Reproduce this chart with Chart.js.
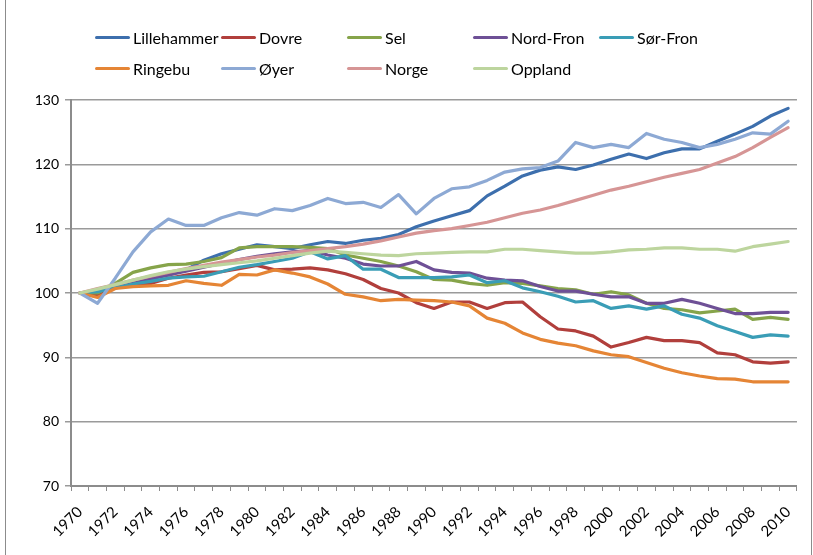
<!DOCTYPE html>
<html>
<head>
<meta charset="utf-8">
<script src="https://cdn.jsdelivr.net/npm/chart.js@4/dist/chart.umd.min.js"></script>
<style>
    html, body { margin: 0; padding: 0; background: #fff; }
    #wrap { position: relative; width: 813px; height: 555px; overflow: hidden; }
    #frame { position: absolute; left: 5px; top: -2px; width: 807px; height: 560px; border: 1px solid #8c8c8c; box-sizing: border-box; }
    #chart { position: absolute; left: 0; top: 0; }
    #legend { position: absolute; left: 95px; top: 26px; display: grid; grid-template-columns: repeat(5, 126px); row-gap: 9px; font-family: Lato, sans-serif; font-size: 16px; color: #000; }
    .lg-item { display: flex; align-items: center; height: 22px; white-space: nowrap; }
    .lg-line { display: inline-block; width: 35px; height: 3px; margin-right: 3px; border-radius: 2px; }
</style>
</head>
<body>
<div id="wrap">
    <div id="frame"></div>
    <canvas id="chart" width="813" height="555"></canvas>
    <div id="legend"></div>
</div>
<script>
    // ─── Data ───────────────────────────────────────────────────

    const years = ['1970', '1971', '1972', '1973', '1974', '1975', '1976', '1977', '1978', '1979',
        '1980', '1981', '1982', '1983', '1984', '1985', '1986', '1987', '1988', '1989',
        '1990', '1991', '1992', '1993', '1994', '1995', '1996', '1997', '1998', '1999',
        '2000', '2001', '2002', '2003', '2004', '2005', '2006', '2007', '2008', '2009', '2010'];

    const lillehammer = [100, 100.3, 100.9, 101.7, 102.2, 102.8, 103.6, 105.1, 106.1, 106.8, 107.5,
        107.2, 106.9, 107.5, 108.0, 107.7, 108.2, 108.5, 109.1, 110.3, 111.2,
        112.0, 112.8, 115.1, 116.6, 118.2, 119.1, 119.6, 119.2, 119.9, 120.8,
        121.6, 120.9, 121.8, 122.4, 122.4, 123.6, 124.7, 125.9, 127.5, 128.7];
    const dovre = [100, 99.6, 100.8, 101.3, 101.5, 102.3, 102.8, 103.2, 103.3, 103.8, 104.3,
        103.6, 103.7, 103.9, 103.6, 103.0, 102.1, 100.7, 100.0, 98.5, 97.6,
        98.6, 98.6, 97.6, 98.5, 98.6, 96.3, 94.4, 94.1, 93.3, 91.6,
        92.3, 93.1, 92.6, 92.6, 92.3, 90.7, 90.4, 89.3, 89.1, 89.3];
    const sel = [100, 100.0, 101.5, 103.2, 103.9, 104.4, 104.5, 104.9, 105.5, 107.0, 107.2,
        107.2, 107.2, 107.1, 106.9, 105.9, 105.4, 104.9, 104.2, 103.3, 102.1,
        102.0, 101.5, 101.2, 101.6, 101.5, 101.1, 100.7, 100.5, 99.8, 100.2,
        99.7, 98.4, 97.6, 97.4, 96.9, 97.2, 97.5, 95.9, 96.2, 95.9];
    const nordFron = [100, 100.4, 101.0, 101.8, 102.3, 102.8, 103.4, 104.0, 104.6, 105.2, 105.7,
        106.1, 106.4, 106.6, 105.9, 105.4, 104.5, 104.2, 104.2, 104.9, 103.6,
        103.2, 103.1, 102.3, 102.0, 101.9, 101.0, 100.3, 100.3, 99.8, 99.4,
        99.4, 98.4, 98.4, 99.0, 98.4, 97.6, 96.8, 96.8, 97.0, 97.0];
    const sorFron = [100, 100.2, 100.8, 101.4, 101.8, 102.3, 102.5, 102.6, 103.3, 104.0, 104.4,
        104.9, 105.4, 106.4, 105.3, 105.8, 103.7, 103.7, 102.4, 102.4, 102.4,
        102.5, 102.8, 101.6, 101.9, 100.8, 100.2, 99.5, 98.6, 98.8, 97.6,
        98.0, 97.5, 98.0, 96.7, 96.1, 94.9, 94.0, 93.1, 93.5, 93.3];
    const ringebu = [100, 99.3, 100.7, 101.0, 101.1, 101.2, 101.9, 101.5, 101.2, 102.9, 102.8,
        103.6, 103.1, 102.5, 101.4, 99.8, 99.4, 98.8, 99.0, 98.9, 98.8,
        98.6, 98.0, 96.1, 95.3, 93.8, 92.8, 92.2, 91.8, 91.0, 90.4,
        90.1, 89.2, 88.3, 87.6, 87.1, 86.7, 86.6, 86.2, 86.2, 86.2];
    const oyer = [100, 98.4, 102.3, 106.4, 109.5, 111.5, 110.5, 110.5, 111.7, 112.5, 112.1,
        113.1, 112.8, 113.6, 114.7, 113.9, 114.1, 113.3, 115.3, 112.3, 114.7,
        116.2, 116.5, 117.5, 118.8, 119.3, 119.5, 120.5, 123.4, 122.6, 123.1,
        122.6, 124.8, 123.9, 123.4, 122.6, 123.1, 123.9, 124.9, 124.7, 126.7];
    const norge = [100, 100.7, 101.3, 102.0, 102.6, 103.2, 103.8, 104.3, 104.8, 105.2, 105.6,
        105.9, 106.3, 106.6, 106.9, 107.2, 107.6, 108.1, 108.7, 109.3, 109.7,
        110.0, 110.5, 111.0, 111.7, 112.4, 112.9, 113.6, 114.4, 115.2, 116.0,
        116.6, 117.3, 118.0, 118.6, 119.2, 120.2, 121.2, 122.6, 124.2, 125.7];
    const oppland = [100, 100.6, 101.3, 102.0, 102.7, 103.3, 103.7, 104.1, 104.4, 104.7, 105.0,
        105.4, 105.8, 106.2, 106.5, 106.3, 106.1, 105.9, 105.8, 106.1, 106.2,
        106.3, 106.4, 106.4, 106.8, 106.8, 106.6, 106.4, 106.2, 106.2, 106.4,
        106.7, 106.8, 107.0, 107.0, 106.8, 106.8, 106.5, 107.2, 107.6, 108.0];

    const seriesNames = ['Lillehammer', 'Dovre', 'Sel', 'Nord-Fron', 'Sør-Fron', 'Ringebu', 'Øyer', 'Norge', 'Oppland'];
    const seriesData = [lillehammer, dovre, sel, nordFron, sorFron, ringebu, oyer, norge, oppland];
    const seriesColors = ['#3d6fad', '#b13f3c', '#86a44a', '#6e5096', '#3a9db6', '#e58535', '#8da9d4', '#d69595', '#bdd59e'];

    const yMin = 70, yMax = 130, yStep = 10;

    // ─── Legend (fixed Excel-like grid) ─────────────────────────

    const legendEl = document.getElementById('legend');
    seriesNames.forEach(function (name, i) {
        const item = document.createElement('div');
        item.className = 'lg-item';
        item.innerHTML = '<span class="lg-line" style="background:' + seriesColors[i] + '"></span>' + name;
        legendEl.appendChild(item);
    });

    // ─── Chart ──────────────────────────────────────────────────

    const AXIS_GREY = '#8c8c8c';
    const FONT = 'Lato, sans-serif';

    new Chart(document.getElementById('chart'), {
        type: 'line',
        data: {
            labels: years,
            datasets: seriesData.map(function (data, i) {
                return {
                    label: seriesNames[i],
                    data: data,
                    borderColor: seriesColors[i],
                    backgroundColor: seriesColors[i],
                    borderWidth: 3.2,
                    pointRadius: 0,
                    tension: 0,
                    borderJoinStyle: 'round',
                    borderCapStyle: 'round',
                    order: seriesData.length - i,   // later series on top, like Excel
                };
            }),
        },
        options: {
            responsive: false,
            animation: false,
            layout: { padding: { left: 0, right: 12, top: 100, bottom: 0 } },
            plugins: { legend: { display: false }, tooltip: { enabled: false } },
            scales: {
                x: {
                    type: 'category',
                    offset: true,
                    grid: { offset: true, drawOnChartArea: false, drawTicks: true, tickLength: 5, color: AXIS_GREY, lineWidth: 1 },
                    border: { display: true, color: AXIS_GREY, width: 2 },
                    ticks: {
                        autoSkip: false,
                        maxRotation: 45,
                        minRotation: 45,
                        padding: 12,
                        color: '#000',
                        font: { family: FONT, size: 15 },
                        callback: function (value, index) {
                            return index % 2 === 0 ? this.getLabelForValue(value) : '';
                        },
                    },
                    afterFit: function (scale) { scale.height = 69; },
                },
                y: {
                    min: yMin,
                    max: yMax,
                    ticks: { stepSize: yStep, color: '#000', padding: 6, font: { family: FONT, size: 14 } },
                    grid: { color: '#9a9a9a', lineWidth: 1.5, tickLength: 6, drawTicks: true },
                    border: { display: true, color: AXIS_GREY, width: 2 },
                    afterFit: function (scale) { scale.width = 71; },
                },
            },
        },
    });
</script>
</body>
</html>
